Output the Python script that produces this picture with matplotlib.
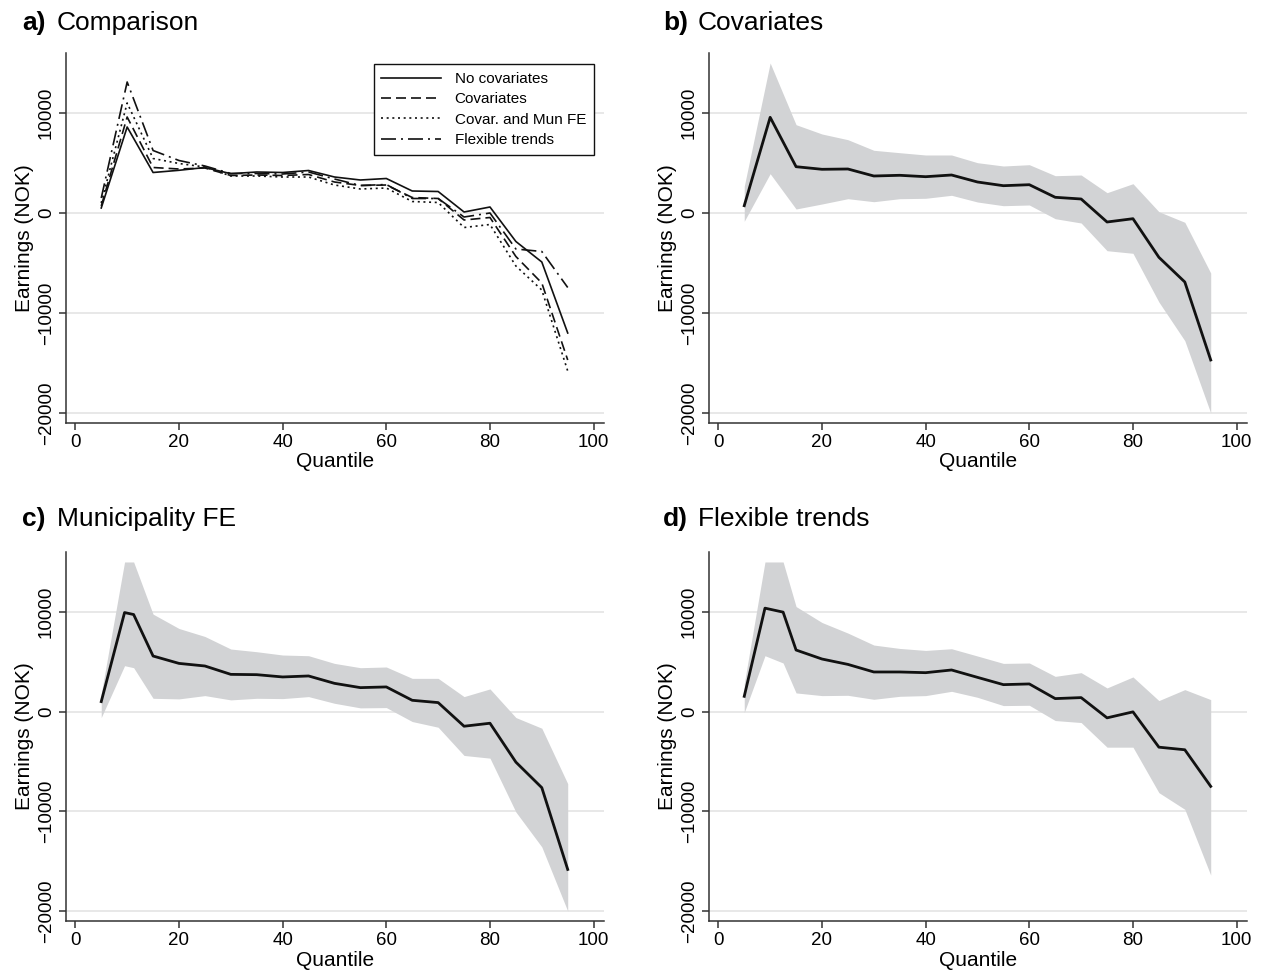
import numpy as np
import matplotlib
matplotlib.use("Agg")
import matplotlib.pyplot as plt

plt.rcParams["font.family"] = ["Liberation Sans", "DejaVu Sans"]

W, H = 1264, 975

# panel a: four specifications, quantiles 5..95
quantiles = [5, 10, 15, 20, 25, 30, 35, 40, 45, 50, 55, 60, 65, 70, 75, 80, 85, 90, 95]
no_cov = [500, 8600, 4050, 4270, 4550, 3930, 4100, 4050, 4250, 3600, 3300, 3450,
          2200, 2150, 100, 600, -2850, -4900, -12000]
cov = [700, 9600, 4550, 4400, 4500, 3750, 3800, 3750, 3850, 3100, 2750, 2800,
       1550, 1450, -700, -450, -4350, -7000, -14700]
cov_mun = [1000, 11000, 5450, 4950, 4600, 3700, 3700, 3600, 3600, 2800, 2400, 2500,
           1150, 1050, -1450, -1150, -5300, -7700, -15800]
flex = [1500, 13100, 6250, 5250, 4700, 3950, 3950, 3900, 4100, 3400, 2750, 2850,
        1450, 1450, -400, 0, -3600, -3850, -7450]

# panel b: covariates
b_q = quantiles
b_est = [730, 9570, 4630, 4370, 4400, 3700, 3770, 3630, 3800, 3100, 2730, 2830,
         1570, 1400, -900, -570, -4430, -6900, -14700]
b_lo = [-830, 3930, 400, 900, 1430, 1130, 1430, 1470, 1770, 1100, 730, 800,
        -570, -1000, -3770, -4030, -8900, -12770, -23500]
b_hi = [2670, 15000, 8830, 7900, 7330, 6270, 6030, 5800, 5800, 5030, 4700, 4830,
        3730, 3800, 2030, 2930, 130, -930, -6000]

# panel c: municipality FE
c_q = [5, 9.5, 11.25, 15, 20, 25, 30, 35, 40, 45, 50, 55, 60, 65, 70, 75, 80, 85, 90, 95]
c_est = [1000, 9930, 9730, 5570, 4830, 4570, 3730, 3700, 3470, 3570, 2830, 2400,
         2470, 1130, 900, -1470, -1170, -5070, -7630, -15830]
c_lo = [-600, 4600, 4400, 1330, 1270, 1600, 1170, 1330, 1300, 1500, 830, 370,
        400, -1000, -1570, -4400, -4670, -10070, -13570, -24600]
c_hi = [1800, 17000, 17000, 9770, 8330, 7530, 6270, 6000, 5670, 5600, 4830, 4400,
        4470, 3330, 3330, 1500, 2270, -600, -1670, -7230]

# panel d: flexible trends
d_q = [5, 9, 12.5, 15, 20, 25, 30, 35, 40, 45, 50, 55, 60, 65, 70, 75, 80, 85, 90, 95]
d_est = [1530, 10370, 9970, 6170, 5270, 4730, 3970, 3970, 3900, 4170, 3430, 2700,
         2770, 1300, 1400, -630, -30, -3570, -3830, -7500]
d_lo = [-100, 5600, 4870, 1870, 1600, 1630, 1230, 1530, 1600, 2030, 1430, 600,
        630, -900, -1100, -3570, -3570, -8130, -9800, -16400]
d_hi = [2800, 16500, 16500, 10530, 8930, 7870, 6670, 6330, 6130, 6300, 5570, 4830,
        4870, 3530, 3900, 2370, 3470, 1100, 2200, 1200]

CI_MIN, CI_MAX = -20000, 15000
GRID = "#e6e6e6"
BAND = "#d2d3d5"


def make_ax(left, top, right, bottom):
    ax = fig.add_axes([left / W, 1 - bottom / H, (right - left) / W, (bottom - top) / H])
    ax.set_xlim(-1.8, 102)
    ax.set_ylim(-21000, 16000)
    ax.set_xticks([0, 20, 40, 60, 80, 100])
    ax.set_yticks([-20000, -10000, 0, 10000])
    ax.set_yticklabels(["\u221220000", "\u221210000", "0", "10000"],
                       rotation=90, va="center")
    for s in ["top", "right"]:
        ax.spines[s].set_visible(False)
    for s in ["left", "bottom"]:
        ax.spines[s].set_color("#333333")
        ax.spines[s].set_linewidth(1.1)
    ax.tick_params(direction="out", length=5, width=1.1, color="#333333",
                   labelsize=13.5, pad=3)
    ax.grid(axis="y", color=GRID, linewidth=1.3)
    ax.set_axisbelow(True)
    ax.set_xlabel("Quantile", fontsize=15, labelpad=1)
    ax.set_ylabel("Earnings (NOK)", fontsize=15, labelpad=3)
    return ax


def title(x, y, letter, text):
    fig.text(x / W, 1 - y / H, letter, fontsize=19, fontweight="bold", va="center")
    fig.text((x + 35) / W, 1 - y / H, text, fontsize=19, va="center")


def band_panel(ax, q, est, lo, hi):
    lo = np.clip(lo, CI_MIN, CI_MAX)
    hi = np.clip(hi, CI_MIN, CI_MAX)
    ax.fill_between(q, lo, hi, color=BAND, linewidth=0, zorder=2)
    ax.plot(q, est, color="#111111", linewidth=2.0, zorder=3)


fig = plt.figure(figsize=(W / 100, H / 100), dpi=100)

ax_a = make_ax(66, 53, 604, 423)
ax_a.plot(quantiles, no_cov, color="#111111", linewidth=1.2, label="No covariates")
ax_a.plot(quantiles, cov, color="#111111", linewidth=1.2, dashes=(6, 3), label="Covariates")
ax_a.plot(quantiles, cov_mun, color="#111111", linewidth=1.2, dashes=(1.2, 2.2),
          label="Covar. and Mun FE")
ax_a.plot(quantiles, flex, color="#111111", linewidth=1.2, dashes=(9, 3, 1.2, 3),
          label="Flexible trends")
leg = ax_a.legend(loc="upper right", bbox_to_anchor=(0.995, 0.99), fontsize=11,
                  handlelength=3.9, handletextpad=0.9, borderpad=0.5, labelspacing=0.42,
                  fancybox=False, framealpha=1, edgecolor="#111111")
leg.get_frame().set_linewidth(1.0)
title(22, 23, "a)", "Comparison")

ax_b = make_ax(709, 53, 1247, 423)
band_panel(ax_b, b_q, b_est, b_lo, b_hi)
title(663, 23, "b)", "Covariates")

ax_c = make_ax(66, 552, 604, 921)
band_panel(ax_c, c_q, c_est, c_lo, c_hi)
title(22, 519, "c)", "Municipality FE")

ax_d = make_ax(709, 552, 1247, 921)
band_panel(ax_d, d_q, d_est, d_lo, d_hi)
title(663, 519, "d)", "Flexible trends")

fig.savefig("out.png", dpi=100, facecolor="white")
